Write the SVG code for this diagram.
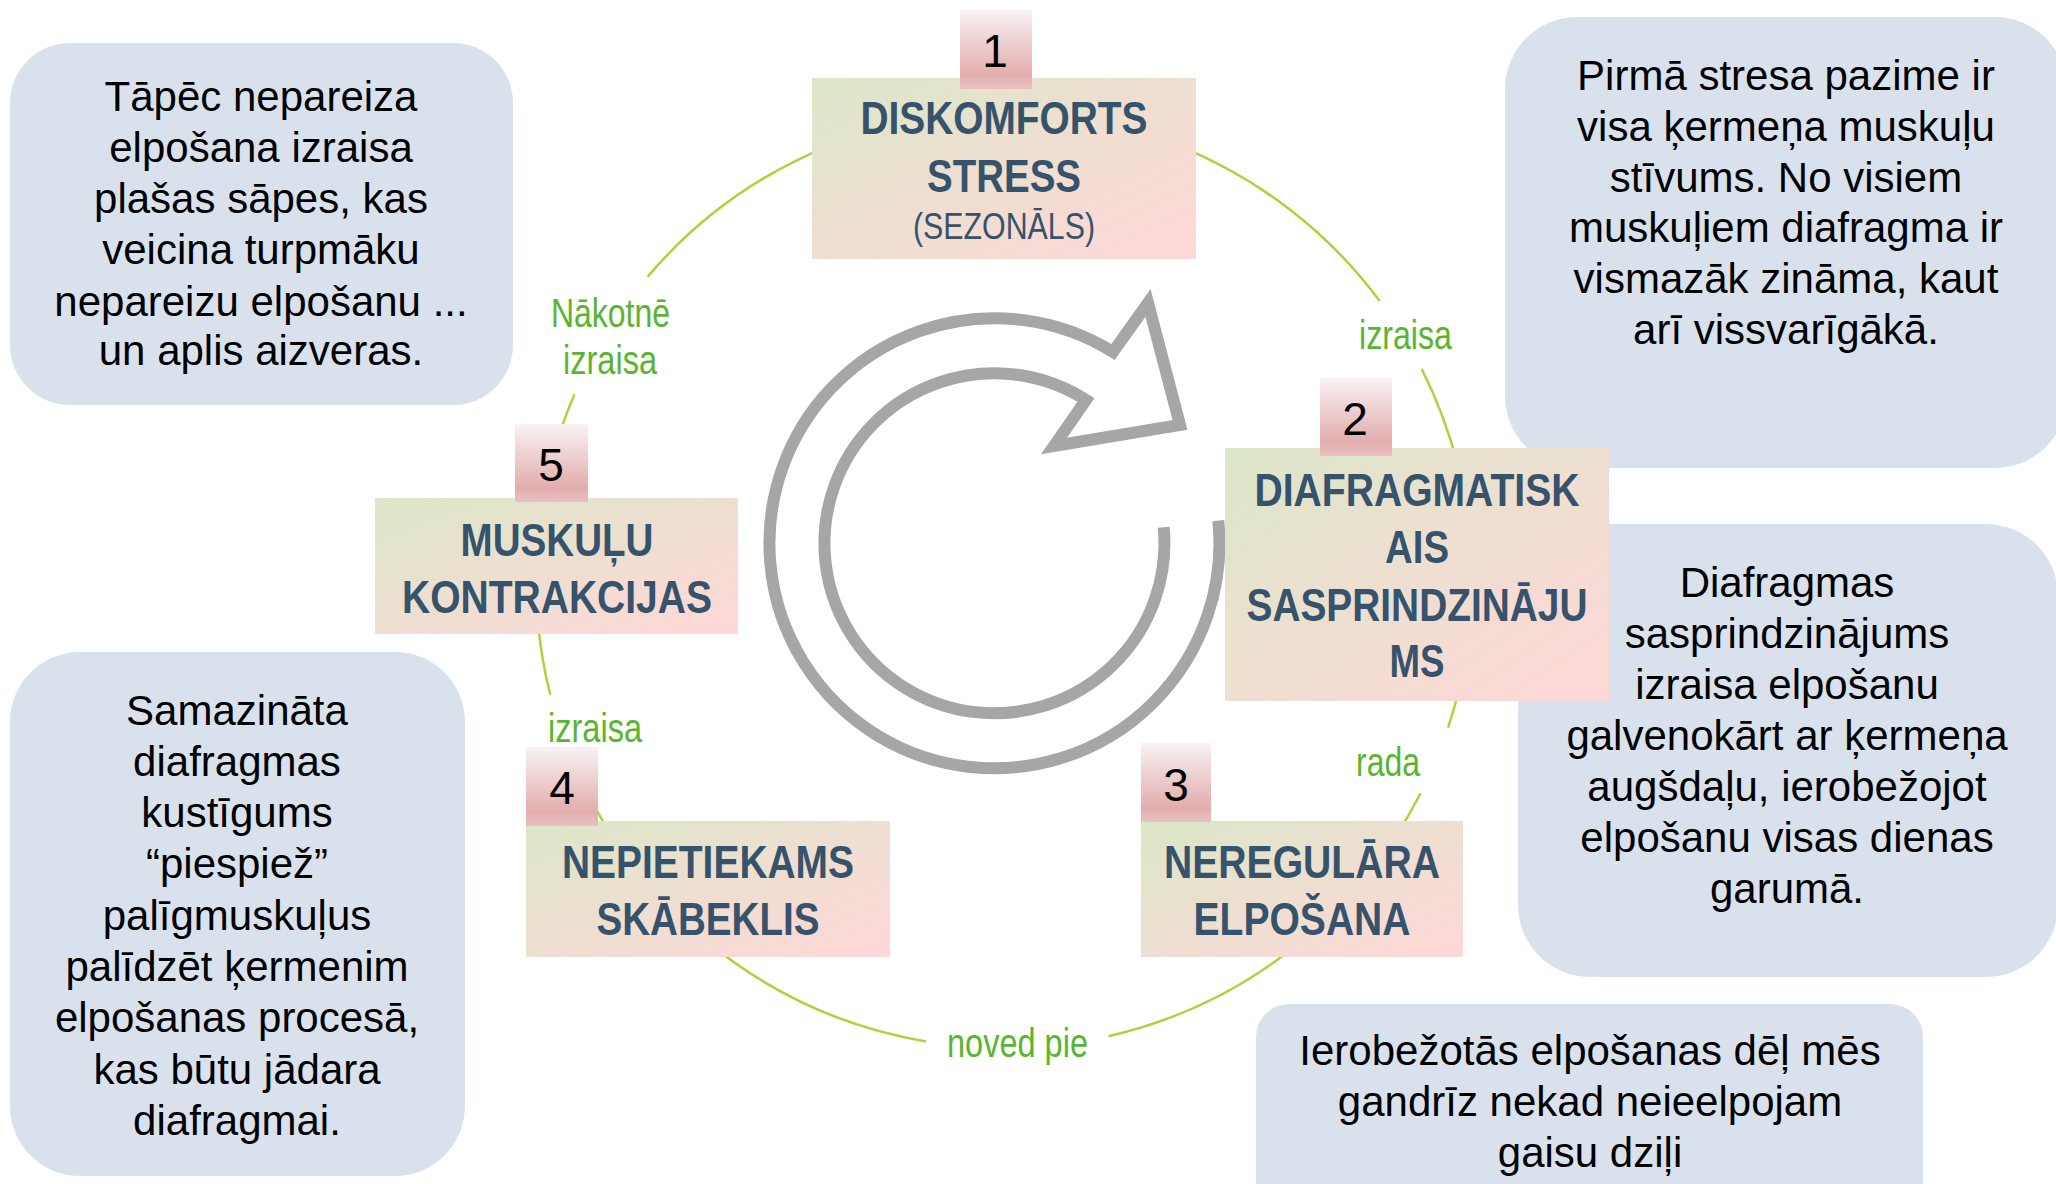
<svg xmlns="http://www.w3.org/2000/svg" width="2056" height="1184" viewBox="0 0 2056 1184">
<defs>
<linearGradient id="boxGrad" x1="0" y1="0" x2="1" y2="1">
<stop offset="0" stop-color="#DBE7C8"/>
<stop offset="0.5" stop-color="#EEDFD1"/>
<stop offset="1" stop-color="#FFD7D7"/>
</linearGradient>
<linearGradient id="badgeGrad" x1="0" y1="0" x2="0" y2="1">
<stop offset="0" stop-color="#F8F2F3"/>
<stop offset="0.82" stop-color="#E3ADAD"/>
<stop offset="1" stop-color="#E9C0C0"/>
</linearGradient>
<style>
.callout{fill:#D9E2EC}
.ct{font-family:"Liberation Sans",Arial,sans-serif;font-size:42px;fill:#000;text-anchor:middle}
.box{fill:url(#boxGrad)}
.badge{fill:url(#badgeGrad)}
.num{font-family:"Liberation Sans",Arial,sans-serif;font-size:46px;fill:#000;text-anchor:middle}
.title{font-family:"Liberation Sans Narrow","Liberation Sans",Arial,sans-serif;font-size:46px;font-weight:bold;fill:#36536B;text-anchor:middle}
.sub{font-family:"Liberation Sans Narrow","Liberation Sans",Arial,sans-serif;font-size:36px;fill:#36536B;text-anchor:middle}
.conn{fill:none;stroke:#AED23C;stroke-width:2.5}
.lbl{font-family:"Liberation Sans Narrow","Liberation Sans",Arial,sans-serif;font-size:40px;fill:#5AB52E}
.icon{fill:none;stroke:#A6A6A6;stroke-width:12;stroke-linejoin:miter}
</style>
</defs>
<rect width="2056" height="1184" fill="#FFFFFF"/>

<g id="note-top-left">
<rect class="callout" x="10" y="43" width="503" height="362" rx="60"/>
<text class="ct" x="261" y="111">Tāpēc nepareiza</text>
<text class="ct" x="261" y="162">elpošana izraisa</text>
<text class="ct" x="261" y="213">plašas sāpes, kas</text>
<text class="ct" x="261" y="264">veicina turpmāku</text>
<text class="ct" x="261" y="316">nepareizu elpošanu ...</text>
<text class="ct" x="261" y="365">un aplis aizveras.</text>
</g>

<g id="note-top-right">
<rect class="callout" x="1505" y="17" width="562" height="451" rx="72"/>
<text class="ct" x="1786" y="90">Pirmā stresa pazime ir</text>
<text class="ct" x="1786" y="141">visa ķermeņa muskuļu</text>
<text class="ct" x="1786" y="192">stīvums. No visiem</text>
<text class="ct" x="1786" y="242">muskuļiem diafragma ir</text>
<text class="ct" x="1786" y="293">vismazāk zināma, kaut</text>
<text class="ct" x="1786" y="344">arī vissvarīgākā.</text>
</g>

<g id="note-right-middle">
<rect class="callout" x="1518" y="524" width="540" height="453" rx="72"/>
<text class="ct" x="1787" y="597">Diafragmas</text>
<text class="ct" x="1787" y="648">sasprindzinājums</text>
<text class="ct" x="1787" y="699">izraisa elpošanu</text>
<text class="ct" x="1787" y="750">galvenokārt ar ķermeņa</text>
<text class="ct" x="1787" y="801">augšdaļu, ierobežojot</text>
<text class="ct" x="1787" y="852">elpošanu visas dienas</text>
<text class="ct" x="1787" y="903">garumā.</text>
</g>

<g id="note-bottom-right">
<rect class="callout" x="1256" y="1004" width="667" height="220" rx="33"/>
<text class="ct" x="1590" y="1065">Ierobežotās elpošanas dēļ mēs</text>
<text class="ct" x="1590" y="1116">gandrīz nekad neieelpojam</text>
<text class="ct" x="1590" y="1167">gaisu dziļi</text>
</g>

<g id="note-bottom-left">
<rect class="callout" x="10" y="652" width="455" height="524" rx="70"/>
<text class="ct" x="237" y="725">Samazināta</text>
<text class="ct" x="237" y="776">diafragmas</text>
<text class="ct" x="237" y="827">kustīgums</text>
<text class="ct" x="237" y="878">“piespiež”</text>
<text class="ct" x="237" y="930">palīgmuskuļus</text>
<text class="ct" x="237" y="981">palīdzēt ķermenim</text>
<text class="ct" x="237" y="1032">elpošanas procesā,</text>
<text class="ct" x="237" y="1084">kas būtu jādara</text>
<text class="ct" x="237" y="1135">diafragmai.</text>
</g>

<g id="connectors">
<path class="conn" d="M1179.3,146.1 A468,468 0 0 1 1379.7,301.0"/>
<path class="conn" d="M1421.7,369.0 A468,468 0 0 1 1458.1,466.8"/>
<path class="conn" d="M1460.0,685.3 A468,468 0 0 1 1448.1,727.7"/>
<path class="conn" d="M1420.6,793.2 A468,468 0 0 1 1396.5,834.9"/>
<path class="conn" d="M1292.1,948.8 A468,468 0 0 1 1108.5,1036.2"/>
<path class="conn" d="M925.9,1041.4 A468,468 0 0 1 715.9,948.8"/>
<path class="conn" d="M616.0,841.7 A468,468 0 0 1 573.2,762.9"/>
<path class="conn" d="M550.3,694.8 A468,468 0 0 1 537.8,620.8"/>
<path class="conn" d="M561.5,427.6 A468,468 0 0 1 574.5,394.2"/>
<path class="conn" d="M647.6,276.7 A468,468 0 0 1 828.7,146.1"/>
<text class="lbl" x="1359" y="349" textLength="93" lengthAdjust="spacingAndGlyphs">izraisa</text>
<text class="lbl" x="1356" y="776" textLength="64" lengthAdjust="spacingAndGlyphs">rada</text>
<text class="lbl" x="947" y="1057" textLength="141" lengthAdjust="spacingAndGlyphs">noved pie</text>
<text class="lbl" x="548" y="742" textLength="94" lengthAdjust="spacingAndGlyphs">izraisa</text>
<text class="lbl" x="551" y="327" textLength="119" lengthAdjust="spacingAndGlyphs">Nākotnē</text>
<text class="lbl" x="563" y="374" textLength="94" lengthAdjust="spacingAndGlyphs">izraisa</text>
</g>

<g id="cycle-icon">
<path class="icon" d="M1163.7,527.3 A170,170 0 1 1 1086,400 L1054,446 L1180,425 L1148,303 L1113,352 A225,225 0 1 0 1218.3,520.6"/>
</g>

<g id="node-1">
<rect class="box" x="812" y="78" width="384" height="181"/>
<rect class="badge" x="960" y="10" width="72" height="79"/>
<text class="num" x="995" y="67">1</text>
<text class="title" x="1004" y="134" textLength="287" lengthAdjust="spacingAndGlyphs">DISKOMFORTS</text>
<text class="title" x="1004" y="192" textLength="154" lengthAdjust="spacingAndGlyphs">STRESS</text>
<text class="sub" x="1004" y="239" textLength="182" lengthAdjust="spacingAndGlyphs">(SEZONĀLS)</text>
</g>

<g id="node-2">
<rect class="box" x="1225" y="448" width="384" height="253"/>
<rect class="badge" x="1320" y="378" width="72" height="78"/>
<text class="num" x="1355" y="435">2</text>
<text class="title" x="1417" y="506" textLength="325" lengthAdjust="spacingAndGlyphs">DIAFRAGMATISK</text>
<text class="title" x="1417" y="563" textLength="64" lengthAdjust="spacingAndGlyphs">AIS</text>
<text class="title" x="1417" y="621" textLength="341" lengthAdjust="spacingAndGlyphs">SASPRINDZINĀJU</text>
<text class="title" x="1417" y="677" textLength="55" lengthAdjust="spacingAndGlyphs">MS</text>
</g>

<g id="node-3">
<rect class="box" x="1141" y="821" width="322" height="136"/>
<rect class="badge" x="1141" y="743" width="70" height="79"/>
<text class="num" x="1176" y="801">3</text>
<text class="title" x="1302" y="878" textLength="276" lengthAdjust="spacingAndGlyphs">NEREGULĀRA</text>
<text class="title" x="1302" y="935" textLength="217" lengthAdjust="spacingAndGlyphs">ELPOŠANA</text>
</g>

<g id="node-4">
<rect class="box" x="526" y="821" width="364" height="136"/>
<rect class="badge" x="526" y="747" width="72" height="79"/>
<text class="num" x="562" y="804">4</text>
<text class="title" x="708" y="878" textLength="292" lengthAdjust="spacingAndGlyphs">NEPIETIEKAMS</text>
<text class="title" x="708" y="935" textLength="223" lengthAdjust="spacingAndGlyphs">SKĀBEKLIS</text>
</g>

<g id="node-5">
<rect class="box" x="375" y="498" width="363" height="136"/>
<rect class="badge" x="515" y="424" width="73" height="78"/>
<text class="num" x="551" y="481">5</text>
<text class="title" x="557" y="556" textLength="193" lengthAdjust="spacingAndGlyphs">MUSKUĻU</text>
<text class="title" x="557" y="613" textLength="310" lengthAdjust="spacingAndGlyphs">KONTRAKCIJAS</text>
</g>
</svg>
